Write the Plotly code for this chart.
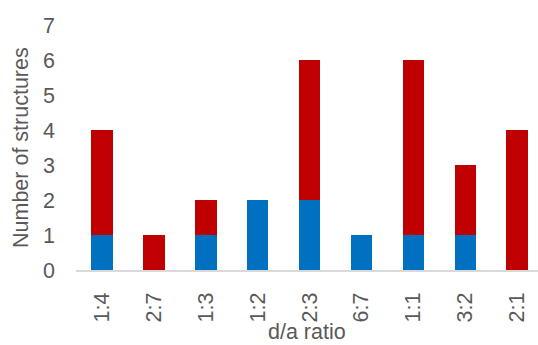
import plotly.graph_objects as go

# d/a ratio categories and structure counts per group
ratios = ["1:4", "2:7", "1:3", "1:2", "2:3", "6:7", "1:1", "3:2", "2:1"]
blue_counts = [1, 0, 1, 2, 2, 1, 1, 1, 0]
red_counts = [3, 1, 1, 0, 4, 0, 5, 2, 4]
y_ticks = [0, 1, 2, 3, 4, 5, 6, 7]

BLUE = "#0070C0"
RED = "#C00000"
TEXT = "#595959"
FONT = "Liberation Sans"
SIZE = 21.5

# plot area in pixels (used to place the axis titles)
W, H = 538, 345
M_L, M_R, M_T, M_B = 76, 0, 25, 75
PLOT_W = W - M_L - M_R
PLOT_H = H - M_T - M_B

fig = go.Figure()
fig.add_trace(go.Bar(x=ratios, y=blue_counts, marker=dict(color=BLUE, line=dict(width=0)),
                     showlegend=False))
fig.add_trace(go.Bar(x=ratios, y=red_counts, marker=dict(color=RED, line=dict(width=0)),
                     showlegend=False))

fig.update_layout(
    width=W, height=H,
    margin=dict(l=M_L, r=M_R, t=M_T, b=M_B),
    barmode="stack",
    bargap=0.586,
    paper_bgcolor="white",
    plot_bgcolor="white",
    font=dict(family=FONT, size=SIZE, color=TEXT),
)

fig.update_xaxes(
    type="category",
    range=[-0.5, 8.4],
    automargin=False,
    tickangle=-90,
    showgrid=False,
    showline=True, linecolor="#D9D9D9", linewidth=2,
    ticks="", ticklabelstandoff=12,
    tickfont=dict(family=FONT, size=SIZE, color=TEXT),
)
fig.update_yaxes(
    range=[0, 7],
    automargin=False,
    tickvals=y_ticks,
    showgrid=False, zeroline=False, showline=False,
    ticks="", ticklabelstandoff=20,
    tickfont=dict(family=FONT, size=SIZE, color=TEXT),
)

# axis titles
fig.add_annotation(
    text="d/a ratio", xref="paper", yref="paper",
    x=0.5, y=-(331.5 - (M_T + PLOT_H)) / PLOT_H,
    xanchor="center", yanchor="middle", showarrow=False, borderpad=0,
    font=dict(family=FONT, size=SIZE, color=TEXT),
)
fig.add_annotation(
    text="Number of structures", xref="paper", yref="paper",
    x=(20.5 - M_L) / PLOT_W, y=0.5, textangle=-90,
    xanchor="center", yanchor="middle", showarrow=False, borderpad=0,
    font=dict(family=FONT, size=SIZE, color=TEXT),
)

fig.write_html("out.html")
